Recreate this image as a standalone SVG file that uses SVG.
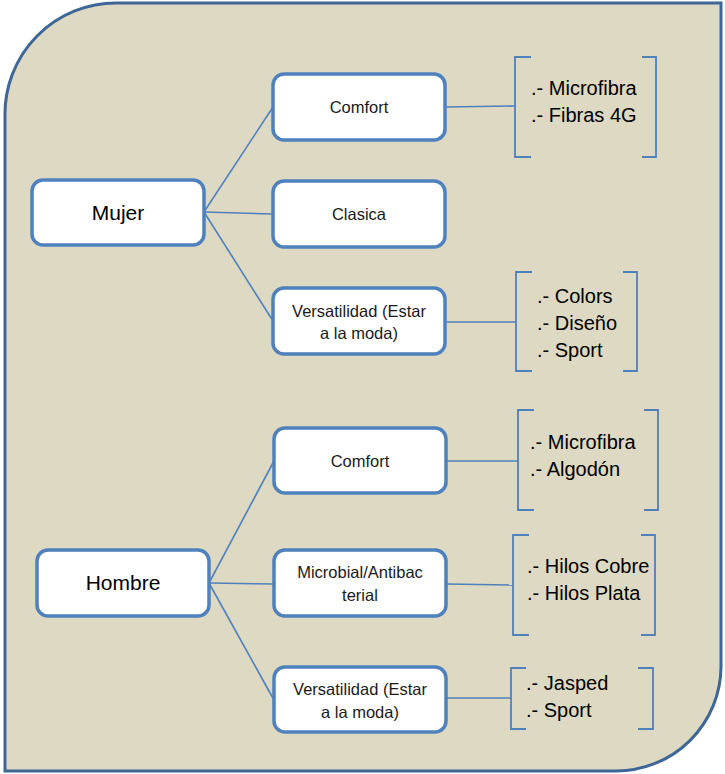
<svg xmlns="http://www.w3.org/2000/svg" width="725" height="774" viewBox="0 0 725 774">
<style>
.bg{fill:#DDD9C3;stroke:#3E6696;stroke-width:3}
.node{fill:#FFFFFF;stroke:#4F81BD;stroke-width:3.5}
.conn{fill:none;stroke:#4F81BD;stroke-width:1.6}
.br{fill:none;stroke:#4F81BD;stroke-width:1.8}
.t1{font-family:"Liberation Sans",Arial,sans-serif;font-size:21px;fill:#000;text-anchor:middle}
.t2{font-family:"Liberation Sans",Arial,sans-serif;font-size:16.5px;fill:#1a1a1a;text-anchor:middle}
.t3{font-family:"Liberation Sans",Arial,sans-serif;font-size:20px;fill:#000}
</style>
<path class="bg" d="M5,116 A111,111 0 0 1 116,3 L721,3 L721,667 A105,105 0 0 1 616,771 L5,771 Z"/>
<g id="connectors">
<line class="conn" x1="204" y1="212" x2="273" y2="107"/>
<line class="conn" x1="204" y1="212" x2="273" y2="214"/>
<line class="conn" x1="204" y1="212" x2="273" y2="321"/>
<line class="conn" x1="209" y1="583" x2="274" y2="461"/>
<line class="conn" x1="209" y1="583" x2="274" y2="584"/>
<line class="conn" x1="209" y1="583" x2="274" y2="700"/>
<line class="conn" x1="445" y1="107" x2="515" y2="106"/>
<line class="conn" x1="445" y1="322" x2="516" y2="322"/>
<line class="conn" x1="446" y1="461" x2="518" y2="461"/>
<line class="conn" x1="446" y1="584" x2="513" y2="585"/>
<line class="conn" x1="446" y1="698" x2="511" y2="698"/>
</g>
<g id="mujer"><rect class="node" x="32" y="180" width="172" height="65" rx="11"/><text class="t1" x="118" y="220">Mujer</text></g>
<g id="comfort1"><rect class="node" x="273" y="74" width="172" height="66" rx="11"/><text class="t2" x="359" y="113">Comfort</text></g>
<g id="clasica"><rect class="node" x="273" y="181" width="172" height="66" rx="11"/><text class="t2" x="359" y="220">Clasica</text></g>
<g id="versatilidad1"><rect class="node" x="273" y="288" width="172" height="66" rx="11"/><text class="t2" x="359" y="317">Versatilidad (Estar</text><text class="t2" x="359" y="339">a la moda)</text></g>
<g id="hombre"><rect class="node" x="37" y="550" width="172" height="66" rx="11"/><text class="t1" x="123" y="590">Hombre</text></g>
<g id="comfort2"><rect class="node" x="274" y="428" width="172" height="65" rx="11"/><text class="t2" x="360" y="467">Comfort</text></g>
<g id="microbial"><rect class="node" x="274" y="550" width="172" height="66" rx="11"/><text class="t2" x="360" y="578">Microbial/Antibac</text><text class="t2" x="360" y="601">terial</text></g>
<g id="versatilidad2"><rect class="node" x="274" y="667" width="172" height="65" rx="11"/><text class="t2" x="360" y="695">Versatilidad (Estar</text><text class="t2" x="360" y="718">a la moda)</text></g>
<g id="list1"><path class="br" d="M531,57 H515 V157 H531 M642,57 H656 V157 H642"/><text class="t3" x="531" y="95">.- Microfibra</text><text class="t3" x="531" y="122">.- Fibras 4G</text></g>
<g id="list2"><path class="br" d="M532,272 H516 V371 H532 M623,272 H637 V371 H623"/><text class="t3" x="537" y="303">.- Colors</text><text class="t3" x="537" y="330">.- Diseño</text><text class="t3" x="537" y="357">.- Sport</text></g>
<g id="list3"><path class="br" d="M534,410 H518 V510 H534 M644,410 H658 V510 H644"/><text class="t3" x="530" y="449">.- Microfibra</text><text class="t3" x="530" y="476">.- Algodón</text></g>
<g id="list4"><path class="br" d="M529,535 H513 V635 H529 M641,535 H655 V635 H641"/><text class="t3" x="527" y="573">.- Hilos Cobre</text><text class="t3" x="527" y="600">.- Hilos Plata</text></g>
<g id="list5"><path class="br" d="M526,668 H511 V729 H526 M638,668 H653 V729 H638"/><text class="t3" x="526" y="690">.- Jasped</text><text class="t3" x="526" y="717">.- Sport</text></g>
</svg>
